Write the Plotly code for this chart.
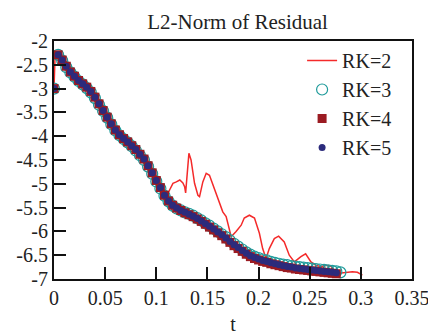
import plotly.graph_objects as go

# ---- data ----
t_main = [0.000, 0.004, 0.008, 0.012, 0.016, 0.020, 0.024, 0.028, 0.032, 0.036,
          0.040, 0.044, 0.048, 0.052, 0.056, 0.060, 0.064, 0.068, 0.072, 0.076,
          0.080, 0.084, 0.088, 0.092, 0.096, 0.100, 0.104, 0.108, 0.112, 0.116,
          0.120, 0.124, 0.128, 0.132, 0.136, 0.140, 0.144, 0.148, 0.152, 0.156,
          0.160, 0.164, 0.168, 0.172, 0.176, 0.180, 0.184, 0.188, 0.192, 0.196,
          0.200, 0.204, 0.208, 0.212, 0.216, 0.220, 0.224, 0.228, 0.232, 0.236,
          0.240, 0.244, 0.248, 0.252, 0.256, 0.260, 0.264, 0.268, 0.272, 0.276]

rk4_y = [-3.00, -2.29, -2.40, -2.53, -2.65, -2.74, -2.83, -2.90, -2.97, -3.06,
         -3.18, -3.32, -3.46, -3.60, -3.74, -3.87, -3.97, -4.05, -4.12, -4.20,
         -4.28, -4.38, -4.48, -4.62, -4.77, -4.93, -5.08, -5.24, -5.36, -5.45,
         -5.51, -5.56, -5.61, -5.65, -5.69, -5.74, -5.79, -5.85, -5.91, -5.97,
         -6.03, -6.09, -6.16, -6.23, -6.30, -6.36, -6.42, -6.48, -6.53, -6.57,
         -6.60, -6.63, -6.65, -6.68, -6.70, -6.72, -6.74, -6.76, -6.77, -6.79,
         -6.80, -6.81, -6.82, -6.83, -6.84, -6.85, -6.86, -6.87, -6.88, -6.89]

rk5_y = [-3.00, -2.29, -2.40, -2.53, -2.65, -2.74, -2.83, -2.90, -2.97, -3.06,
         -3.18, -3.32, -3.46, -3.60, -3.74, -3.87, -3.97, -4.05, -4.12, -4.20,
         -4.28, -4.38, -4.48, -4.62, -4.77, -4.93, -5.08, -5.24, -5.36, -5.45,
         -5.51, -5.56, -5.60, -5.64, -5.68, -5.73, -5.78, -5.84, -5.89, -5.95,
         -6.01, -6.07, -6.14, -6.21, -6.28, -6.34, -6.40, -6.46, -6.51, -6.55,
         -6.58, -6.61, -6.63, -6.66, -6.68, -6.70, -6.72, -6.74, -6.75, -6.77,
         -6.78, -6.79, -6.80, -6.81, -6.82, -6.83, -6.84, -6.85, -6.86, -6.87]

t_rk3 = t_main + [0.280]
rk3_y = [-3.00, -2.29, -2.41, -2.55, -2.66, -2.75, -2.84, -2.91, -2.99, -3.08,
         -3.20, -3.34, -3.47, -3.61, -3.75, -3.88, -3.98, -4.06, -4.13, -4.21,
         -4.30, -4.40, -4.50, -4.64, -4.79, -4.95, -5.10, -5.25, -5.37, -5.46,
         -5.52, -5.56, -5.60, -5.63, -5.67, -5.72, -5.77, -5.83, -5.88, -5.94,
         -6.00, -6.06, -6.12, -6.19, -6.26, -6.32, -6.38, -6.44, -6.49, -6.53,
         -6.56, -6.59, -6.61, -6.64, -6.66, -6.68, -6.70, -6.71, -6.73, -6.74,
         -6.75, -6.76, -6.77, -6.78, -6.79, -6.80, -6.81, -6.82, -6.83, -6.84, -6.86]

t_rk2 = [0.000, 0.001, 0.004, 0.012, 0.024, 0.036, 0.048, 0.060, 0.072, 0.084,
         0.096, 0.104, 0.110, 0.113, 0.1163, 0.1196, 0.123, 0.126, 0.1277, 0.1287,
         0.1300, 0.1319, 0.134, 0.1374, 0.1407, 0.1423, 0.1455, 0.1488, 0.152, 0.157,
         0.1618, 0.165, 0.1683, 0.170, 0.1732, 0.178, 0.183, 0.186, 0.191, 0.196,
         0.2008, 0.204, 0.2073, 0.2105, 0.2154, 0.2196, 0.2251, 0.230, 0.235, 0.2414,
         0.2460, 0.2512, 0.256, 0.261, 0.2658, 0.2707, 0.274, 0.2788, 0.2853, 0.2917,
         0.2966, 0.3015]
rk2_y = [-3.00, -2.35, -2.29, -2.53, -2.83, -3.06, -3.46, -3.87, -4.12, -4.38,
         -4.77, -5.08, -5.28, -5.13, -4.99, -4.96, -4.92, -4.98, -5.06, -5.19,
         -4.80, -4.36, -4.50, -4.99, -5.24, -5.27, -4.96, -4.78, -4.82, -5.13,
         -5.38, -5.59, -5.69, -5.83, -6.11, -6.00, -5.87, -5.72, -5.66, -5.72,
         -6.04, -6.36, -6.57, -6.36, -6.15, -6.10, -6.22, -6.50, -6.64, -6.53,
         -6.47, -6.64, -6.71, -6.74, -6.71, -6.73, -6.81, -6.88, -6.86, -6.85,
         -6.86, -6.92]

x_ticks = [0, 0.05, 0.1, 0.15, 0.2, 0.25, 0.3, 0.35]
x_tick_text = ["0", "0.05", "0.1", "0.15", "0.2", "0.25", "0.3", "0.35"]
y_ticks = [-2, -2.5, -3, -3.5, -4, -4.5, -5, -5.5, -6, -6.5, -7]
y_tick_text = ["-2", "-2.5", "-3", "-3.5", "-4", "-4.5", "-5", "-5.5", "-6", "-6.5", "-7"]

FONT = "'Liberation Serif', 'Times New Roman', Times, 'DejaVu Serif', serif"

fig = go.Figure()
fig.add_trace(go.Scatter(x=t_rk2, y=rk2_y, mode="lines", name="RK=2", legendgroup="a",
                         line=dict(color="#f42a2a", width=1.5)))
fig.add_trace(go.Scatter(x=t_rk3, y=rk3_y, mode="markers", name="RK=3", legendgroup="b",
                         marker=dict(symbol="circle-open", size=11, color="#1f9b9b",
                                     line=dict(width=1.2, color="#1f9b9b"))))
fig.add_trace(go.Scatter(x=t_main, y=rk4_y, mode="markers", name="RK=4", legendgroup="c",
                         marker=dict(symbol="square", size=9, color="#9b1b22")))
fig.add_trace(go.Scatter(x=t_main, y=rk5_y, mode="markers", name="RK=5", legendgroup="d",
                         marker=dict(symbol="circle", size=7, color="#2c2b7c")))

axis_common = dict(showline=True, linecolor="#111", linewidth=2, mirror=True,
                   ticks="inside", ticklen=12, tickwidth=1.5, tickcolor="#111",
                   showgrid=False, zeroline=False, automargin=False,
                   tickfont=dict(family=FONT, size=20, color="#222"))

fig.update_xaxes(range=[-1e-9, 0.35 + 1e-9], tickvals=x_ticks, ticktext=x_tick_text,
                 ticklabeloverflow="allow",
                 title=dict(text="t", font=dict(family=FONT, size=20, color="#222"), standoff=10),
                 **axis_common)
fig.update_yaxes(range=[-7, -2], tickvals=y_ticks, ticktext=y_tick_text, **axis_common)

fig.update_layout(
    width=428, height=335,
    margin=dict(l=54, r=16, t=41, b=56),
    paper_bgcolor="white", plot_bgcolor="white",
    font=dict(family=FONT, color="#222"),
    title=dict(text="L2-Norm of Residual", x=0.555, xanchor="center", y=0.935, yanchor="middle",
               font=dict(family=FONT, size=21, color="#222")),
    legend=dict(x=0.693, y=1.0, xanchor="left", yanchor="top", bgcolor="rgba(0,0,0,0)",
                font=dict(family=FONT, size=20, color="#222"), tracegroupgap=0,
                itemwidth=30),
    showlegend=True,
)

fig.write_html("out.html")
